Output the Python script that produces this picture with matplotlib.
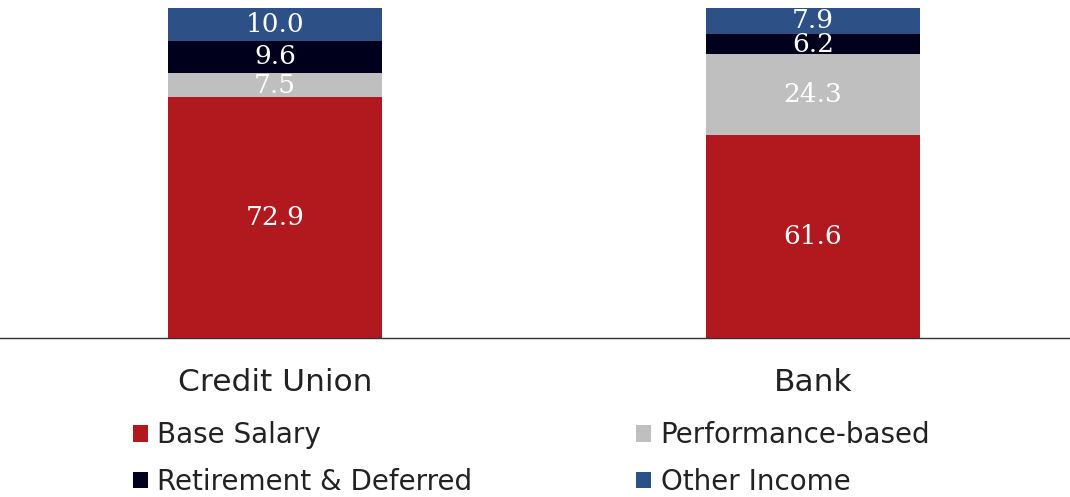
import numpy as np
import matplotlib
matplotlib.use("Agg")
import matplotlib.pyplot as plt

plt.rcParams["font.family"] = ["DejaVu Sans"]

# ----------------------------------------------------------------------------
# Datos
# ----------------------------------------------------------------------------
categories = ["Credit Union", "Bank"]
series_names = ["Base Salary", "Performance-based", "Retirement & Deferred", "Other Income"]
base_salary = [72.9, 61.6]
performance = [7.5, 24.3]
retirement = [9.6, 6.2]
other_income = [10.0, 7.9]

colors = ["#B2191E", "#BFBFBF", "#00001C", "#2D5186"]

# ----------------------------------------------------------------------------
# Grafico
# ----------------------------------------------------------------------------
fig = plt.figure(figsize=(10.7, 4.97), dpi=100)
ax = fig.add_axes([0.0, 0.32, 1.0, 0.664])

x = np.arange(len(categories))
width = 0.398
bottom = np.zeros(len(categories))
handles = []
for name, vals, col in zip(series_names, [base_salary, performance, retirement, other_income], colors):
    vals = np.array(vals)
    bars = ax.bar(x, vals, width, bottom=bottom, color=col, label=name, linewidth=0)
    handles.append(bars)
    for xi, b, v in zip(x, bottom, vals):
        ax.text(xi, b + v / 2, f"{v:.1f}", ha="center", va="center", color="white",
                fontsize=19, family="DejaVu Serif")
    bottom += vals

ax.set_xlim(-0.511, 1.478)
ax.set_ylim(0, 100)
ax.set_yticks([])
ax.set_xticks(x)
ax.set_xticklabels(categories, fontsize=22.5, color="#222222")
ax.tick_params(axis="x", length=0, pad=21.5)
for s in ["top", "right", "left"]:
    ax.spines[s].set_visible(False)
ax.spines["bottom"].set_color("#333333")
ax.spines["bottom"].set_linewidth(1.0)

# leyenda: columnas (Base, Retirement) y (Performance, Other)
order = [0, 2, 1, 3]
fig.legend([handles[i] for i in order], [series_names[i] for i in order],
           ncol=2, loc="upper left", bbox_to_anchor=(0.124, 0.153), frameon=False,
           fontsize=20, handlelength=0.55, handleheight=0.55, handletextpad=0.33,
           columnspacing=5.9, labelspacing=0.68, labelcolor="#222222",
           borderaxespad=0, borderpad=0)

plt.savefig("out.png", dpi=100)
